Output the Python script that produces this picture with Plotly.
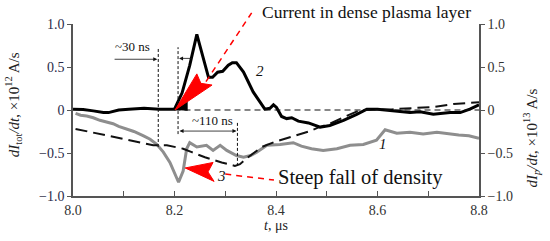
import plotly.graph_objects as go

# curve 1: dI_tot/dt (gray)
t_tot = [8.005, 8.015, 8.027, 8.04, 8.053, 8.066, 8.079, 8.09, 8.106, 8.12, 8.139, 8.152,
         8.165, 8.178, 8.191, 8.208, 8.217, 8.224, 8.230, 8.244, 8.263, 8.276, 8.29, 8.303,
         8.322, 8.336, 8.35, 8.362, 8.382, 8.408, 8.434, 8.45, 8.47, 8.493, 8.52, 8.546,
         8.572, 8.598, 8.615, 8.638, 8.664, 8.69, 8.717, 8.74, 8.76, 8.78, 8.80]
di_tot = [-0.04, -0.06, -0.07, -0.09, -0.12, -0.14, -0.16, -0.19, -0.22, -0.25, -0.30, -0.34,
          -0.40, -0.49, -0.61, -0.84, -0.71, -0.45, -0.38, -0.43, -0.41, -0.47, -0.41, -0.47,
          -0.53, -0.55, -0.53, -0.49, -0.41, -0.40, -0.38, -0.42, -0.45, -0.47, -0.45, -0.41,
          -0.40, -0.35, -0.23, -0.27, -0.26, -0.28, -0.26, -0.28, -0.29, -0.30, -0.33]

# curve 2: dI_p/dt (black)
t_p = [8.00, 8.02, 8.04, 8.06, 8.07, 8.09, 8.11, 8.14, 8.17, 8.20, 8.215, 8.23, 8.244,
       8.256, 8.267, 8.275, 8.285, 8.295, 8.306, 8.314, 8.322, 8.336, 8.355, 8.378, 8.388,
       8.395, 8.401, 8.411, 8.421, 8.431, 8.444, 8.464, 8.487, 8.506, 8.533, 8.559, 8.579,
       8.60, 8.62, 8.64, 8.664, 8.684, 8.71, 8.743, 8.763, 8.782, 8.795, 8.80]
di_p = [0.01, 0.005, -0.01, -0.03, -0.03, 0.0, 0.01, 0.02, 0.01, 0.01, 0.2, 0.52, 0.88,
        0.62, 0.38, 0.38, 0.44, 0.45, 0.52, 0.55, 0.55, 0.44, 0.21, 0.01, 0.02,
        0.06, 0.03, -0.075, -0.10, -0.09, -0.13, -0.15, -0.20, -0.18, -0.12, -0.05, 0.01,
        0.01, 0.0, -0.01, -0.03, -0.02, -0.05, -0.03, -0.03, 0.01, 0.05, 0.06]

# curve 3: dashed
t_3 = [8.005, 8.053, 8.106, 8.158, 8.185, 8.217, 8.234, 8.260, 8.293, 8.319, 8.329, 8.345,
       8.372, 8.398, 8.437, 8.465, 8.485, 8.506, 8.533, 8.566, 8.63, 8.71, 8.75, 8.79, 8.80]
di_3 = [-0.22, -0.28, -0.34, -0.41, -0.41, -0.45, -0.49, -0.55, -0.61, -0.65, -0.63, -0.55,
        -0.43, -0.37, -0.30, -0.25, -0.20, -0.16, -0.085, 0.0, 0.01, 0.035, 0.07, 0.09, 0.09]

x_ticks = [8.0, 8.2, 8.4, 8.6, 8.8]
y_ticks = [-1.0, -0.5, 0, 0.5, 1.0]
y_ticktext = ["\u22121.0", "\u22120.5", "0", "0.5", "1.0"]

SERIF = "Times New Roman, Liberation Serif, serif"
AX = "#555"

fig = go.Figure()
fig.add_trace(go.Scatter(x=t_tot, y=di_tot, mode="lines",
                         line=dict(color="#8e8e8e", width=3), showlegend=False))
fig.add_trace(go.Scatter(x=t_3, y=di_3, mode="lines",
                         line=dict(color="#111", width=2, dash="12px,6px"), showlegend=False))
fig.add_trace(go.Scatter(x=t_p, y=di_p, mode="lines",
                         line=dict(color="#000", width=3), showlegend=False))


def px(x):
    return (x - 8.0) / 0.8


def py(y):
    return (y + 1) / 2


shapes = []
# zero reference dashed line
shapes.append(dict(type="line", xref="x", yref="y", x0=8.2, x1=8.8, y0=0, y1=0,
                   line=dict(color="#111", width=1.2, dash="6px,4px")))
# vertical dashed markers
for x, y0, y1 in [(8.168, -0.43, 0.71), (8.207, -0.28, 0.73), (8.324, -0.65, -0.14)]:
    shapes.append(dict(type="line", xref="x", yref="y", x0=x, x1=x, y0=y0, y1=y1,
                       line=dict(color="#111", width=1, dash="3px,2px")))
# black fill near onset
shapes.append(dict(type="path", xref="x", yref="y",
                   path="M 8.201 0 L 8.226 0.22 L 8.226 -0.01 Z",
                   fillcolor="black", line=dict(width=0)))
# red arrow 1 (current in dense plasma layer)
shapes.append(dict(type="path", xref="x", yref="y",
                   path="M 8.201 0 L 8.244 0.42 L 8.252 0.31 L 8.274 0.29 Z",
                   fillcolor="red", line=dict(color="red", width=1)))
shapes.append(dict(type="line", xref="paper", yref="paper",
                   x0=px(8.262), y0=py(0.33), x1=px(8.352), y1=py(1.13),
                   line=dict(color="red", width=1.5, dash="6px,5px")))
# red arrow 2 (steep fall of density)
shapes.append(dict(type="path", xref="x", yref="y",
                   path="M 8.221 -0.674 L 8.276 -0.61 L 8.266 -0.72 L 8.278 -0.83 Z",
                   fillcolor="red", line=dict(color="red", width=1)))
shapes.append(dict(type="line", xref="x", yref="y",
                   x0=8.30, y0=-0.745, x1=8.396, y1=-0.815,
                   line=dict(color="red", width=1.5, dash="6px,5px")))


def label(text, x, y, size, ref="data"):
    r = ("x", "y") if ref == "data" else ("paper", "paper")
    return dict(text=text, x=x, y=y, xref=r[0], yref=r[1], xanchor="center",
                yanchor="middle", showarrow=False,
                font=dict(family=SERIF, size=size, color="#111"))


annotations = [
    label("Current in dense plasma layer", 0.722, 1.07, 17.5, ref="paper"),
    label("Steep fall of density", 8.567, -0.78, 20.5),
    label("<i>1</i>", 8.611, -0.40, 15),
    label("<i>2</i>", 8.368, 0.45, 15),
    label("<i>3</i>", 8.293, -0.77, 15),
    label("~30 ns", 8.118, 0.74, 13),
    label("~110 ns", 8.274, -0.12, 13),
    # small arrows
    dict(x=8.166, y=0.59, ax=8.079, ay=0.59, xref="x", yref="y", axref="x", ayref="y",
         text="", showarrow=True, arrowhead=2, arrowsize=1, arrowwidth=0.8, arrowcolor="#111"),
    dict(x=8.209, y=0.60, ax=8.237, ay=0.60, xref="x", yref="y", axref="x", ayref="y",
         text="", showarrow=True, arrowhead=2, arrowsize=1, arrowwidth=0.8, arrowcolor="#111"),
    dict(x=8.322, y=-0.245, ax=8.207, ay=-0.245, xref="x", yref="y", axref="x", ayref="y",
         text="", showarrow=True, arrowhead=2, arrowside="end+start", arrowsize=1,
         arrowwidth=0.8, arrowcolor="#111"),
    # axis titles
    dict(text="<i>dI</i><sub>tot</sub><i>/dt</i>, \u00d710<sup>12</sup> A/s", textangle=-90,
         x=-0.147, y=0.53, xref="paper", yref="paper", showarrow=False,
         xanchor="center", yanchor="middle",
         font=dict(family=SERIF, size=15, color="#222")),
    dict(text="<i>dI<sub>p</sub>/dt</i>, \u00d710<sup>13</sup> A/s", textangle=-90,
         x=1.128, y=0.34, xref="paper", yref="paper", showarrow=False,
         xanchor="center", yanchor="middle",
         font=dict(family=SERIF, size=15, color="#222")),
    dict(text="<i>t</i>, \u03bcs", x=0.5, y=-0.17, xref="paper", yref="paper",
         xanchor="center", yanchor="middle", showarrow=False,
         font=dict(family=SERIF, size=14, color="#222")),
]

fig.update_layout(
    width=550, height=241,
    margin=dict(l=73, r=71, t=24, b=45),
    paper_bgcolor="white", plot_bgcolor="white",
    font=dict(family=SERIF, size=14, color="#333"),
    shapes=shapes, annotations=annotations,
    xaxis=dict(range=[8.0, 8.8], tickvals=x_ticks, tickformat=".1f", automargin=False,
               showline=True, linecolor=AX, linewidth=1.5, mirror=False,
               ticks="inside", ticklen=5, tickcolor=AX, showgrid=False, zeroline=False,
               minor=dict(dtick=0.1, tick0=8.0, ticks="inside", ticklen=5, tickcolor=AX),
               tickfont=dict(family=SERIF, size=14, color="#333")),
    yaxis=dict(range=[-1, 1], tickvals=y_ticks, ticktext=y_ticktext, automargin=False,
               showline=True, linecolor=AX, linewidth=1.5,
               ticks="outside", ticklen=4, tickcolor=AX, showgrid=False, zeroline=False,
               tickfont=dict(family=SERIF, size=14, color="#2b2b4a")),
    yaxis2=dict(range=[-1, 1], overlaying="y", side="right", tickvals=y_ticks,
                ticktext=y_ticktext, showline=True, linecolor=AX, linewidth=1.5,
                automargin=False,
                ticks="outside", ticklen=4, tickcolor=AX, showgrid=False, zeroline=False,
                tickfont=dict(family=SERIF, size=14, color="#333")),
)
# invisible trace to activate right axis
fig.add_trace(go.Scatter(x=[8.0], y=[0], yaxis="y2", mode="markers",
                         marker=dict(opacity=0), showlegend=False, hoverinfo="skip"))

# drop the default page margin so the figure fills the window exactly
fig.write_html("out.html", config={"displayModeBar": False},
               post_script="document.body.style.margin = '0';")
